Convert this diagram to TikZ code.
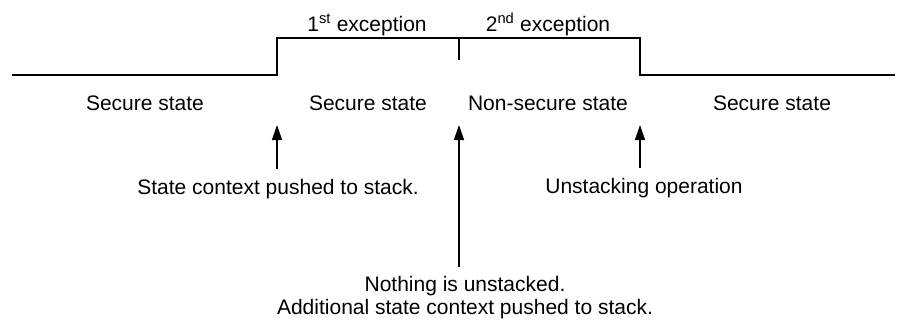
\documentclass[tikz,border=0pt]{standalone}
\usepackage{fontspec}
\setmainfont{Liberation Sans}
\usetikzlibrary{arrows.meta}
\tikzset{>={Triangle[length=15pt,width=10pt]}}
\tikzset{wave/.style={line width=1.3pt},
         lbl/.style={anchor=base,font=\fontsize{21}{23}\selectfont},
         pointer/.style={->,line width=1.3pt,shorten <=6pt}}

\begin{document}
\begin{tikzpicture}[x=1pt,y=-1pt]
                \useasboundingbox (0,0) rectangle (906,322);
                % the state signal
                \coordinate (w0) at (12,75);
                \coordinate (w1) at (277,75);
                \coordinate (w2) at (277,38);
                \coordinate (w3) at (640,38);
                \coordinate (w4) at (640,75);
                \coordinate (w5) at (895,75);
                \coordinate (tick) at (459,38);
                \coordinate (tickb) at (459,60);
                \draw[wave] (w0) -- (w1) -- (w2) -- (w3) -- (w4) -- (w5);
                \draw[wave] (tick) -- (tickb);
                % exceptions
                \node[lbl] (exc1) at (367,31) {1\textsuperscript{st} exception};
                \node[lbl] (exc2) at (548,31) {2\textsuperscript{nd} exception};
                % states
                \node[lbl] (sec1) at (145,110) {Secure state};
                \node[lbl] (sec2) at (368,110) {Secure state};
                \node[lbl] (nsec) at (548,110) {Non-secure state};
                \node[lbl] (sec3) at (772,110) {Secure state};
                % events
                \coordinate (tip1) at (277,125);
                \coordinate (tip2) at (459,125);
                \coordinate (tip3) at (640,125);
                \node[lbl] (push) at (278,194) {State context pushed to stack.};
                \node[lbl] (unstack) at (644,193) {Unstacking operation};
                \node[lbl,anchor=north,align=center] (nothing) at (465,273)
                    {Nothing is unstacked.\\Additional state context pushed to stack.};
                \draw[pointer] (push.north -| tip1) -- (tip1);
                \draw[pointer] (nothing.north -| tip2) -- (tip2);
                \draw[pointer] (unstack.north -| tip3) -- (tip3);
\end{tikzpicture}
\end{document}
